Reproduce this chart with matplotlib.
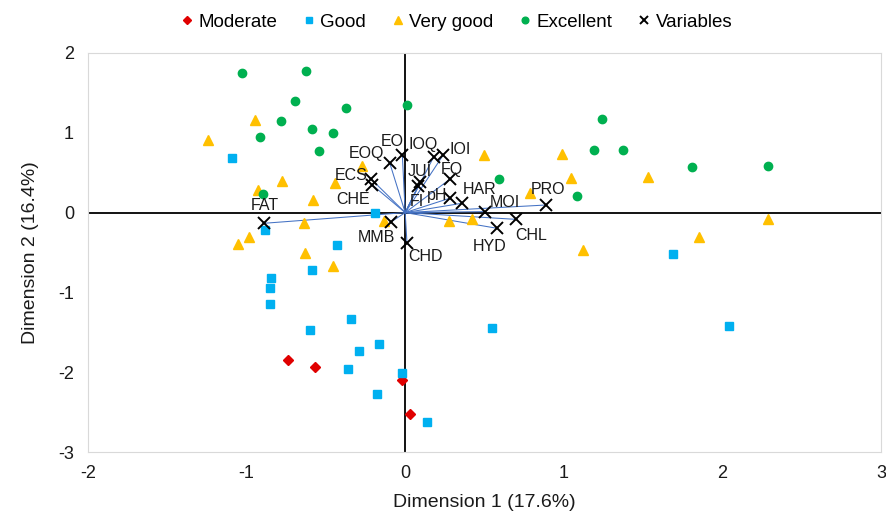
import matplotlib.pyplot as plt

plt.rcParams['font.family'] = ['Liberation Sans', 'DejaVu Sans']
plt.rcParams['axes.unicode_minus'] = False

# scores of the samples, by grade
moderate_x = [-0.74, -0.57, -0.02, 0.03]
moderate_y = [-1.85, -1.94, -2.10, -2.53]

good_x = [-1.09, -0.885, -0.19, -0.43, -0.59, -0.845, -0.855, -0.855, -0.344, -0.60,
          -0.165, -0.29, -0.36, -0.02, -0.18, 0.136, 0.546, 1.69, 2.04]
good_y = [0.69, -0.22, -0.005, -0.41, -0.72, -0.82, -0.945, -1.14, -1.33, -1.475,
          -1.65, -1.73, -1.96, -2.01, -2.27, -2.62, -1.45, -0.52, -1.42]

verygood_x = [-1.245, -0.944, -0.927, -0.775, -0.58, -0.445, -0.275, -0.635, -0.136,
              -0.986, -1.055, -0.634, -0.455, 0.275, 0.418, 0.495, 0.99, 1.045, 0.786,
              1.53, 1.12, 1.85, 2.29]
verygood_y = [0.91, 1.16, 0.28, 0.39, 0.16, 0.375, 0.59, -0.125, -0.105,
              -0.31, -0.39, -0.51, -0.67, -0.105, -0.08, 0.72, 0.74, 0.43, 0.24,
              0.44, -0.47, -0.31, -0.08]

excellent_x = [-1.03, -0.625, -0.695, -0.376, 0.014, -0.786, -0.586, -0.456, -0.917,
               -0.544, -0.895, 0.59, 1.08, 1.24, 1.19, 1.37, 1.81, 2.29]
excellent_y = [1.75, 1.775, 1.40, 1.315, 1.35, 1.15, 1.05, 1.00, 0.95,
               0.775, 0.235, 0.42, 0.21, 1.17, 0.79, 0.785, 0.575, 0.585]

# variable loadings
var_names = ['EOQ', 'EOI', 'IOQ', 'IOI', 'ECS', 'CHE', 'JUI', 'FI', 'FQ', 'pH',
             'HAR', 'MOI', 'PRO', 'CHL', 'HYD', 'MMB', 'CHD', 'FAT']
var_x = [-0.098, -0.018, 0.18, 0.239, -0.213, -0.207, 0.096, 0.081, 0.281, 0.281,
         0.355, 0.50, 0.887, 0.70, 0.58, -0.087, 0.011, -0.89]
var_y = [0.625, 0.72, 0.70, 0.72, 0.417, 0.346, 0.387, 0.333, 0.417, 0.18,
         0.116, 0.012, 0.095, -0.085, -0.197, -0.114, -0.377, -0.134]

# label offsets in pixels (x right, y up)
label_off = {'EOQ': (-23, 9), 'EOI': (-8, 14), 'IOQ': (-11, 12), 'IOI': (17, 6),
             'ECS': (-20, 4), 'CHE': (-19, -15), 'JUI': (-1, 10), 'FI': (-1, -15),
             'FQ': (2, 10), 'pH': (-13, 3), 'HAR': (18, 14), 'MOI': (20, 9),
             'PRO': (2, 16), 'CHL': (15, -16), 'HYD': (-8, -18), 'MMB': (-15, -16),
             'CHD': (19, -14), 'FAT': (1, 18)}

fig = plt.figure(figsize=(8.86, 5.13), dpi=100)
ax = fig.add_axes([0.0993, 0.1189, 0.8951, 0.7778])

ax.axhline(0, color='black', lw=1.3, zorder=1)
ax.axvline(0, color='black', lw=1.3, zorder=1)

for x, y in zip(var_x, var_y):
    ax.plot([0, x], [0, y], color='#4472C4', lw=0.75, zorder=2)

ax.plot(moderate_x, moderate_y, 'D', color='#E00000', ms=5, ls='none', zorder=3, label='Moderate')
ax.plot(good_x, good_y, 's', color='#00B0F0', ms=6, ls='none', zorder=3, label='Good')
ax.plot(verygood_x, verygood_y, '^', color='#FFC000', ms=7, ls='none', zorder=3, label='Very good')
ax.plot(excellent_x, excellent_y, 'o', color='#00B050', ms=6, ls='none', zorder=3, label='Excellent')
ax.plot(var_x, var_y, 'x', color='black', ms=8, mew=1.4, ls='none', zorder=4, label='Variables')

for n, x, y in zip(var_names, var_x, var_y):
    ax.annotate(n, (x, y), xytext=label_off[n], textcoords='offset pixels',
                ha='center', va='center', fontsize=11.5, color='#1a1a1a', zorder=5)

ax.set_xlim(-2, 3)
ax.set_ylim(-3, 2)
ax.set_xticks([-2, -1, 0, 1, 2, 3])
ax.set_yticks([-3, -2, -1, 0, 1, 2])
ax.tick_params(length=0, labelsize=13, colors='#1a1a1a')
ax.tick_params(axis='x', pad=9)
ax.tick_params(axis='y', pad=10)
for s in ax.spines.values():
    s.set_color('#D9D9D9')
    s.set_linewidth(0.8)

ax.set_xlabel('Dimension 1 (17.6%)', fontsize=14, labelpad=9, color='#1a1a1a')
ax.set_ylabel('Dimension 2 (16.4%)', fontsize=14, labelpad=14, color='#1a1a1a')

fig.legend(loc='upper center', bbox_to_anchor=(0.515, 1.006), ncol=5, frameon=False,
           fontsize=13.5, handlelength=0.7, handletextpad=0.25, columnspacing=1.35,
           markerscale=0.8)

fig.savefig('out.png', dpi=100)
